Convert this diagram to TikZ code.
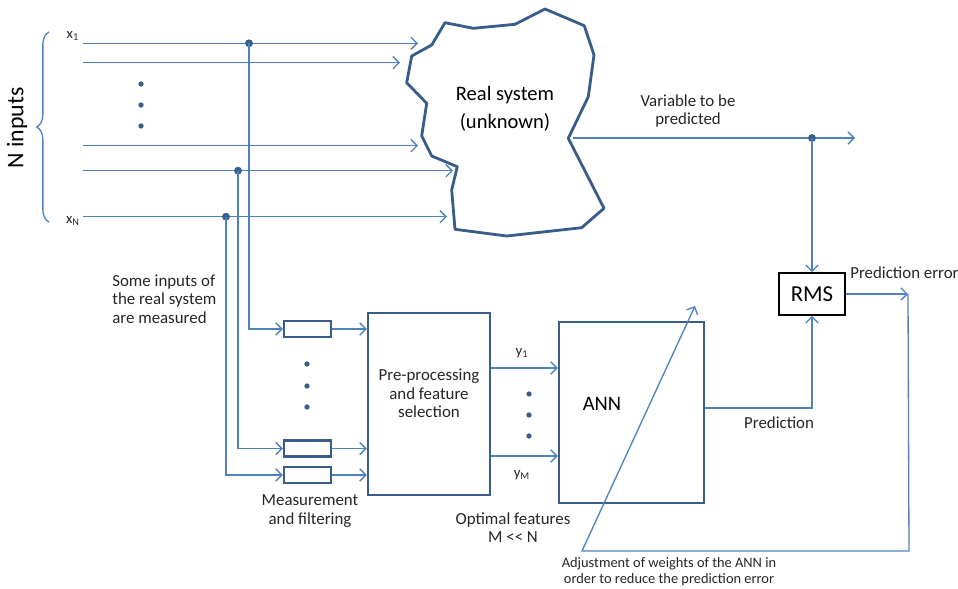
\documentclass[tikz,border=0pt]{standalone}
\usepackage{fontspec}
\setmainfont{Carlito}
\usetikzlibrary{arrows.meta,calc,decorations.pathreplacing}
\definecolor{connc}{RGB}{79,129,189}
\definecolor{shp}{RGB}{56,93,138}
\begin{document}
\begin{tikzpicture}[x=0.02cm,y=-0.02cm,
  conn/.style={draw=connc,line width=0.75pt},
  arr/.style={conn,-{Straight Barb[length=3.5pt,width=7pt,line width=0.75pt]}},
  blk/.style={draw=shp,line width=1.4pt,fill=white,inner sep=0pt},
  lbl/.style={font=\fontsize{9.6}{10.4}\selectfont,align=center,inner sep=0pt,text=black!85},
  small/.style={font=\fontsize{8.4}{9}\selectfont,inner sep=0pt,text=black!85},
  jdot/.style={circle,fill=shp,inner sep=0pt,minimum size=4.5pt},
  edot/.style={circle,fill=shp,inner sep=0pt,minimum size=3pt}]
\useasboundingbox (0,0) rectangle (958,589);

% brace and N inputs
\draw[conn,decorate,decoration={brace,amplitude=7pt}] (49,222) -- (49,32);
\node[font=\fontsize{13.6}{15}\selectfont,rotate=90,inner sep=0pt] (ninp) at (17,128) {N inputs};
\node[small] (x1) at (73,36) {x\textsubscript{1}};
\node[small] (xN) at (73,221) {x\textsubscript{N}};

% real system
\draw[shp,line width=1.6pt,line join=round]
  (445,22.7) -- (473.3,28.3) -- (515,24.3) -- (545,9) -- (584.3,25.7) -- (594,55)
  -- (588.3,96.7) -- (568.3,138.3) -- (604,208.3) -- (581.7,227.7) -- (506.7,236)
  -- (455,229.3) -- (451.7,190) -- (457.3,166.7) -- (431.7,156) -- (421.7,136)
  -- (426.7,103.3) -- (406.7,82.7) -- (411.7,56) -- (431.7,45) -- cycle;
\node[font=\fontsize{11.7}{15.8}\selectfont,align=center,inner sep=0pt] (rs) at (505,109) {Real system\\(unknown)};

% input lines
\coordinate (i1) at (83,43.3);   \coordinate (e1) at (418,43.3);
\coordinate (i2) at (83,62.7);   \coordinate (e2) at (400,62.7);
\coordinate (i3) at (83,145.7);  \coordinate (e3) at (418,145.7);
\coordinate (i4) at (83,170.7);  \coordinate (e4) at (453,170.7);
\coordinate (i5) at (83,216.7);  \coordinate (e5) at (447,216.7);
\draw[arr] (i1) -- (e1);
\draw[arr] (i2) -- (e2);
\draw[arr] (i3) -- (e3);
\draw[arr] (i4) -- (e4);
\draw[arr] (i5) -- (e5);
\node[edot] (d1) at (141,84) {};
\node[edot] (d2) at (141,105) {};
\node[edot] (d3) at (141,126) {};

% measurement boxes
\node[blk,minimum width=0.94cm,minimum height=0.32cm] (m1) at (307.5,329) {};
\node[blk,minimum width=0.94cm,minimum height=0.32cm] (m2) at (307.5,448.5) {};
\node[blk,minimum width=0.94cm,minimum height=0.32cm] (m3) at (307.5,475) {};
\node[edot] (d4) at (307,364) {};
\node[edot] (d5) at (307,386) {};
\node[edot] (d6) at (307,407) {};

% junctions
\node[jdot] (j1) at (249,43.3) {};
\node[jdot] (j4) at (238,170.7) {};
\node[jdot] (j5) at (226,216.7) {};
\draw[arr] (j1.center) |- (m1.west);
\draw[arr] (j4.center) |- (m2.west);
\draw[arr] (j5.center) |- (m3.west);

\node[lbl,align=left,anchor=west] (some) at (112,299) {Some inputs of\\the real system\\are measured};
\node[lbl] (meas) at (310,511) {Measurement\\and filtering};

% pre-processing
\node[blk,minimum width=2.44cm,minimum height=3.64cm] (pre) at (429,404) {};
\node[lbl] (pretxt) at (429,393.5) {Pre-processing\\and feature\\selection};
\draw[arr] (m1.east) -- (m1.east -| pre.west);
\draw[arr] (m2.east) -- (m2.east -| pre.west);
\draw[arr] (m3.east) -- (m3.east -| pre.west);

% ANN
\node[blk,minimum width=2.9cm,minimum height=3.62cm] (ann) at (631.5,412.5) {};
\node[font=\fontsize{11.7}{14}\selectfont,inner sep=0pt] (anntxt) at (602,404) {ANN};
\coordinate (y1a) at (490,368);
\coordinate (yMa) at (490,456);
\draw[arr] (y1a -| pre.east) -- (y1a -| ann.west);
\draw[arr] (yMa -| pre.east) -- (yMa -| ann.west);
\node[small] (y1) at (522,353) {y\textsubscript{1}};
\node[small] (yM) at (522,475) {y\textsubscript{M}};
\node[edot] (d7) at (529,394) {};
\node[edot] (d8) at (529,415) {};
\node[edot] (d9) at (529,436) {};
\node[lbl] (opt) at (513,528) {Optimal features\\M {<}{<} N};

% RMS
\node[draw=black,line width=0.9pt,minimum width=1.32cm,minimum height=0.84cm,inner sep=0pt,
      font=\fontsize{13}{15}\selectfont] (rms) at (812,294) {RMS};

% output
\coordinate (out0) at (573,138);
\coordinate (out1) at (855,138);
\draw[arr] (out0) -- (out1);
\node[jdot] (j6) at (812,138) {};
\draw[arr] (j6.center) -- (rms.north);
\node[lbl] (var) at (688,111) {Variable to be\\predicted};

\coordinate (annout) at (704,408);
\draw[arr] (annout -| ann.east) -| (rms.south);
\node[lbl] (pred) at (779,423) {Prediction};
\node[lbl,anchor=west] (prederr) at (850,273) {Prediction error};

% feedback
\coordinate (fb0) at (908,294);
\coordinate (fb1) at (909,551);
\coordinate (fb2) at (582,551);
\coordinate (fb3) at (695,306);
\draw[arr] (rms.east) -- (fb0);
\draw[arr] (fb0) -- (fb1) -- (fb2) -- (fb3);
\node[font=\fontsize{8.2}{9.2}\selectfont,align=center,inner sep=0pt,text=black!85] (adj) at (669,572)
  {Adjustment of weights of the ANN in\\order to reduce the prediction error};
\end{tikzpicture}
\end{document}
